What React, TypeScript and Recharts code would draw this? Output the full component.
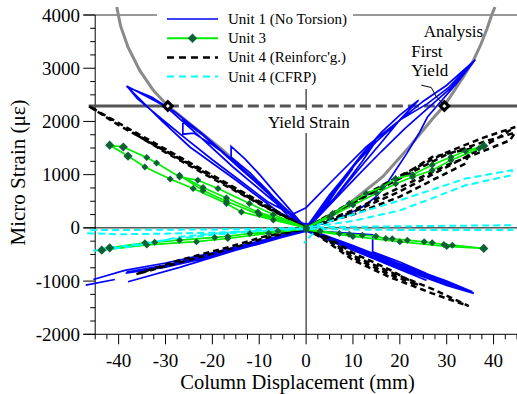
import React from 'react';
import { ComposedChart, Line, XAxis, YAxis, ReferenceLine, Legend } from 'recharts';

type Pt = [number, number];

// ---------- data (x: column displacement mm, y: micro strain) ----------
const unit1Segments: Pt[][] = [
  [[0,0],[2,180],[4,400],[6,650],[8,880],[10,1120],[8,900],[6,640],[4,380],[2,160],[0,30],[-2,120],[-4,300],[-6,480],[-8,680],[-10,860],[-8,640],[-6,420],[-4,240],[-2,100],[0,20],[3,330],[6,700],[9,1030],[12,1350],[15,1640],[12,1250],[9,900],[6,560],[3,250],[0,40],[-3,220],[-6,470],[-9,760],[-12,1040],[-16,1330],[-16,1530],[-13,1290],[-10,1010],[-7,700],[-4,400],[-1,90],[1,60],[4,480],[8,940],[12,1390],[16,1790],[20,2120],[24,2400],[20,2030],[16,1600],[12,1180],[8,760],[4,360],[0,30],[-4,300],[-8,640],[-12,980],[-16,1300],[-20,1560],[-24,1780],[-26.3,1760],[-26.3,2020],[-22,1740],[-18,1430],[-14,1110],[-10,800],[-6,480],[-2,170],[0,20]],
  [[0,0],[-8,580],[-15.6,1144],[-22.5,1700],[-29.8,2270],[-34,2470],[-38.3,2664],[-31,2030],[-24.8,1520],[-15,900],[-6.4,332],[-3,150],[0,0],[-4,330],[-10,830],[-16,1290],[-22,1760],[-28,2180],[-33,2460],[-38,2640],[-36,2430],[-31,2060],[-26,1700],[-20,1280],[-14,880],[-8,480],[-3,250],[0,380]],
  [[0,380],[5.7,895],[12.8,1520],[19.9,2020],[25.9,2334],[30.5,2645],[36.1,3160],[32,2700],[28.5,2350],[25.9,2083],[24.1,1777],[21.5,1400],[19.1,1083],[17,800],[14.9,582],[12,394],[8,220],[4,90],[0,0],[5,620],[10,1150],[15,1620],[20,2020],[25,2380],[30,2680],[35.6,3120],[31,2640],[26,2250],[21,1860],[16,1430],[11,980],[6,520],[2,150],[0,20]],
  [[0,-20],[-10,-250],[-20,-470],[-30,-660],[-38.7,-800],[-45.4,-970]],
  [[-47,-1075],[-40.8,-970]],
  [[-38,-1013],[-27,-743],[-15,-420],[0,-30],[10,-360],[20,-700],[30,-1030],[35.8,-1231],[30,-1080],[20,-760],[10,-420],[0,-60],[-10,-290],[-20,-520],[-30,-720],[-38.5,-850],[-30,-740],[-20,-540],[-10,-300],[0,-50],[7,-90],[14.2,-130],[14.2,-450],[20,-640],[25.5,-850],[25.5,-980],[20,-780],[10,-420],[0,-40],[-10,-270],[-20,-500],[-30,-700],[-38.3,-830],[-32,-760],[-20,-500],[-10,-260],[0,-10],[10,-330],[20,-680],[30,-1000],[35.5,-1200],[30,-1050],[20,-730],[10,-390],[0,-40]],
];

const unit3Segments: Pt[][] = [
  [[0,0],[-7,250],[-12.1,458],[-18.8,739],[-23.1,895],[-27,957],[-31.9,1220],[-34,1320],[-39,1520],[-41.9,1553],[-38,1350],[-34.4,1144],[-29,920],[-24.1,739],[-17,458],[-13.8,300],[-7,150],[0,0],[-10.3,300],[-17,560],[-22,760],[-27,990],[-22,700],[-17,500],[-10,250],[0,0]],
  [[0,0],[-6,-60],[-12,-105],[-16.7,-160],[-19.5,-180],[-27,-231],[-32.3,-270],[-34.4,-281],[-41.9,-375],[-43.6,-420],[-34,-320],[-23.4,-260],[-16.7,-200],[-8,-100],[0,-20]],
  [[0,0],[5.7,270],[9.2,458],[12.8,645],[16.3,770],[19.1,926],[22.7,1000],[26.9,1180],[30.9,1330],[34,1440],[37.9,1540],[36.9,1490],[30.9,1270],[26.9,1083],[22.7,957],[19.1,830],[15,650],[10,430],[5,200],[0,0]],
  [[0,0],[3,-60],[7.1,-105],[9.2,-120],[12,-137],[14.9,-156],[17,-199],[18.4,-205],[21.6,-231],[25.2,-262],[26.9,-281],[29.4,-312],[31.2,-325],[37.9,-387],[30,-350],[20,-260],[10,-160],[0,-40]],
];

const unit4ReinfSegments: Pt[][] = [
  [[0,0],[-10,500],[-20,990],[-30,1480],[-40,1970],[-46.4,2290],[-40,1930],[-30,1440],[-20,960],[-10,460],[0,10],[-10,480],[-20,960],[-30,1450],[-37,1790],[-30,1420],[-20,930],[-10,450],[0,0]],
  [[0,0],[-9.2,-169],[-16.3,-356],[-27,-606],[-36.2,-869],[-27,-650],[-16.3,-400],[-9.2,-200],[0,-20]],
  [[0,0],[10,480],[20,950],[26.9,1332],[35.1,1490],[34,1208],[26.9,895],[19.9,582],[10,250],[0,0],[10,500],[20,980],[30,1420],[38,1700],[44.6,1895],[40,1640],[34,1330],[26.9,1000],[19.9,680],[10,300],[0,0],[10,460],[20,930],[30,1380],[38,1620],[44.6,1790],[43.5,1645],[38,1450],[30,1180],[20,760],[10,330],[0,0]],
  [[0,0],[5,-290],[10,-606],[17.7,-919],[26.9,-1231],[34.7,-1470],[27,-1150],[17.7,-820],[10,-520],[5,-240],[0,0],[5,-260],[10,-560],[17.7,-870],[24,-1080],[17.7,-780],[10,-470],[5,-200],[0,0]],
];

const unit4CfrpSegments: Pt[][] = [
  [[0,0],[-10,-20],[-20,-30],[-30,-35],[-40,-40],[-46.5,-43],[-46.5,-100],[-40,-120],[-30,-110],[-20,-90],[-10,-60],[0,-20]],
  [[0,0],[-10,-50],[-20,-110],[-26.9,-169],[-32,-260],[-37.6,-356],[-45.4,-431],[-43.5,-390],[-37,-320],[-30,-230],[-20,-130],[-10,-60],[0,-10]],
  [[0,0],[10,250],[20,516],[34,926],[43.9,1083],[43.9,990],[34,800],[27,560],[20,328],[10,130],[0,0]],
  [[0,10],[20,30],[44,50],[44,-40],[20,-40],[0,-20]],
  [[1.5,-100],[-0.5,-290]],
];

const analysisCurve: Pt[] = [[-40.4,4150],[-39.6,3800],[-38,3396],[-35.5,2959],[-32.6,2584],[-29.5,2290],[-24.8,1958],[-17.7,1458],[-10,820],[-5,400],[0,0],[5,220],[9.2,458],[16.3,957],[22,1520],[26.9,2040],[29.4,2290],[31.2,2521],[33.5,2830],[35.7,3146],[37.3,3450],[38.6,3741],[39.6,4000],[40.3,4150]];

const YIELD_STRAIN = 2290;
const FIRST_YIELD_X = [-29.5, 29.5];
const YIELD_LINE_START = -46.4;
const YIELD_LINE_END = 45;
const leaderLine: Pt[] = [[24.6,2681],[26.7,2638],[27.8,2462],[29.2,2330]];

const X_TICKS: number[] = [];
for (let v = -45; v <= 45.001; v += 2.5) X_TICKS.push(Math.round(v * 10) / 10);
const Y_TICKS: number[] = [];
for (let v = -2000; v <= 4000; v += 250) Y_TICKS.push(v);

const legendNames = ['Unit 1 (No Torsion)', 'Unit 3', "Unit 4 (Reinforc'g.)", 'Unit 4 (CFRP)'];

// ---------- layout ----------
const CHART_W = 517;
const CHART_H = 394;
const X_MIN = -47.5, X_MAX = 45;
const Y_MIN = -2000, Y_MAX = 4200;
const PLOT_LEFT = 83.48;
const PLOT_TOP = 4.36;
const PLOT_BOTTOM = 334.3;
const AXIS_X_VALUE = -45;
const AXIS_PX = PLOT_LEFT + ((AXIS_X_VALUE - X_MIN) / (X_MAX - X_MIN)) * (CHART_W - PLOT_LEFT);
const FONT = '"Liberation Serif", "Times New Roman", Times, serif';

const BLUE = '#0000ff';
const GREEN = '#00ee00';
const DKGREEN = '#0b6233';
const CYAN = '#00ffff';

const toData = (segs: Pt[][]) => {
  const out: { x: number; y: number | null }[] = [];
  segs.forEach((s, i) => {
    if (i > 0) out.push({ x: s[0][0], y: null });
    s.forEach(([x, y]) => out.push({ x, y }));
  });
  return out;
};

const XTick = (props: any) => {
  const { x, payload } = props;
  const v = payload.value as number;
  const major = Math.abs(v % 10) < 1e-6;
  return (
    <g>
      <line x1={x} x2={x} y1={PLOT_BOTTOM} y2={PLOT_BOTTOM + (major ? 10 : 5)} stroke="#000" />
      {major && v >= -40 && v <= 40 && (
        <text x={x} y={PLOT_BOTTOM + 32.4} textAnchor="middle" fontSize={19} fontFamily={FONT} fill="#000">{String(v)}</text>
      )}
    </g>
  );
};

const YTick = (props: any) => {
  const { y, payload } = props;
  const v = payload.value as number;
  const major = v % 1000 === 0;
  return (
    <g>
      <line x1={AXIS_PX - (major ? 12 : 5)} x2={AXIS_PX} y1={y} y2={y} stroke="#000" />
      {major && (
        <text x={AXIS_PX - 15.2} y={y + 6.5} textAnchor="end" fontSize={19} fontFamily={FONT} fill="#000">{String(v)}</text>
      )}
    </g>
  );
};

const GreenDot = (p: any) => {
  const { cx, cy, payload } = p;
  if (cx == null || cy == null || payload == null || payload.y == null) return <g key={p.key} />;
  const s = Math.abs(payload.x) >= 37 ? 4.6 : 3.5;
  return <path key={p.key} d={`M${cx},${cy - s}L${cx + s},${cy}L${cx},${cy + s}L${cx - s},${cy}Z`} fill={DKGREEN} />;
};

const YieldDiamond = (p: any) => {
  const { cx, cy } = p;
  if (cx == null || cy == null) return <g key={p.key} />;
  const s = 6.5, t = 2;
  return (
    <g key={p.key}>
      <path d={`M${cx},${cy - s}L${cx + s},${cy}L${cx},${cy + s}L${cx - s},${cy}Z`} fill="#000" />
      <path d={`M${cx},${cy - t}L${cx + t},${cy}L${cx},${cy + t}L${cx - t},${cy}Z`} fill="#fff" />
    </g>
  );
};

const legendStyles = [
  { stroke: BLUE, width: 1.5, dash: undefined as string | undefined, marker: false },
  { stroke: GREEN, width: 2, dash: undefined, marker: true },
  { stroke: '#000', width: 2.5, dash: '7 5', marker: false },
  { stroke: CYAN, width: 2, dash: '7 5', marker: false },
];

const LegendContent = () => (
  <svg width={196} height={89} style={{ display: 'block', background: '#fff' }}>
    {legendNames.map((name, i) => {
      const y = 19 + i * 19.2;
      const st = legendStyles[i];
      return (
        <g key={name}>
          <line x1={10} x2={61} y1={y} y2={y} stroke={st.stroke} strokeWidth={st.width} strokeDasharray={st.dash} />
          {st.marker && <path d={`M35.5,${y - 4.7}L40.2,${y}L35.5,${y + 4.7}L30.8,${y}Z`} fill={DKGREEN} />}
          <text x={71} y={y + 5} fontSize={15} fontFamily={FONT} fill="#000">{name}</text>
        </g>
      );
    })}
  </svg>
);

export default function App() {
  const yieldLeft = [{ x: YIELD_LINE_START, y: YIELD_STRAIN }, { x: FIRST_YIELD_X[0], y: YIELD_STRAIN }];
  const yieldMid = [{ x: FIRST_YIELD_X[0], y: YIELD_STRAIN }, { x: FIRST_YIELD_X[1], y: YIELD_STRAIN }];
  const yieldRight = [{ x: FIRST_YIELD_X[1], y: YIELD_STRAIN }, { x: YIELD_LINE_END, y: YIELD_STRAIN }];
  const yieldPts = FIRST_YIELD_X.map((x) => ({ x, y: YIELD_STRAIN }));
  const common = { isAnimationActive: false, dot: false as const, activeDot: false as const, legendType: 'none' as const, connectNulls: false, type: 'linear' as const, dataKey: 'y' };

  return (
    <div style={{ position: 'absolute', left: 0, top: 0, width: CHART_W, height: CHART_H, overflow: 'hidden', background: '#fff' }}>
      <ComposedChart width={CHART_W} height={CHART_H} margin={{ top: PLOT_TOP, right: 0, bottom: 0, left: 0 }}>
        <XAxis type="number" dataKey="x" domain={[X_MIN, X_MAX]} ticks={X_TICKS} interval={0} tick={XTick} tickLine={false} tickSize={0} tickMargin={0} height={CHART_H - PLOT_BOTTOM} axisLine={{ stroke: '#000' }} />
        <YAxis type="number" domain={[Y_MIN, Y_MAX]} ticks={Y_TICKS} interval={0} tick={YTick} tickLine={false} tickSize={0} tickMargin={0} width={PLOT_LEFT} axisLine={false} />
        <ReferenceLine segment={[{ x: AXIS_X_VALUE, y: -2000 }, { x: AXIS_X_VALUE, y: 4000 }]} stroke="#000" />
        <ReferenceLine y={4000} stroke="#333" />
        <ReferenceLine y={0} stroke="#000" />
        <ReferenceLine segment={[{ x: 0, y: -2000 }, { x: 0, y: 4000 }]} stroke="#000" />
        <Line {...common} data={analysisCurve.map(([x, y]) => ({ x, y }))} stroke="#8a8a8a" strokeWidth={3} />
        <Line {...common} data={yieldLeft} stroke="#555" strokeWidth={3} />
        <Line {...common} data={yieldMid} stroke="#555" strokeWidth={3} strokeDasharray="11 5" />
        <Line {...common} data={yieldRight} stroke="#555" strokeWidth={3} />
        <Line {...common} data={toData(unit1Segments)} stroke={BLUE} strokeWidth={1.7} />
        <Line {...common} data={toData(unit4ReinfSegments)} stroke="#000" strokeWidth={2.5} strokeDasharray="6 4" />
        <Line {...common} data={toData(unit3Segments)} stroke={GREEN} strokeWidth={1.7} dot={GreenDot} />
        <Line {...common} data={toData(unit4CfrpSegments)} stroke={CYAN} strokeWidth={2} strokeDasharray="7 4" />
        <Line {...common} data={leaderLine.map(([x, y]) => ({ x, y }))} stroke="#000" strokeWidth={1} />
        <Line {...common} data={yieldPts} stroke="none" dot={YieldDiamond} />
        <Legend layout="vertical" align="center" verticalAlign="middle" content={LegendContent} wrapperStyle={{ left: 157, top: 0, width: 196, height: 89 }} />
      </ComposedChart>
      <svg width={CHART_W} height={CHART_H} style={{ position: 'absolute', left: 0, top: 0, pointerEvents: 'none' }}>
        <rect x={262} y={110} width={94} height={23} fill="#fff" />
        <text x={268} y={128.3} fontSize={17} fontFamily={FONT} fill="#000">Yield Strain</text>
        <text x={423.7} y={36.7} fontSize={17} fontFamily={FONT} fill="#000">Analysis</text>
        <text x={411.3} y={56.8} fontSize={17} fontFamily={FONT} fill="#000">First</text>
        <text x={411.3} y={76.2} fontSize={17} fontFamily={FONT} fill="#000">Yield</text>
        <text x={297.5} y={389} textAnchor="middle" fontSize={20.5} fontFamily={FONT} fill="#000">Column Displacement (mm)</text>
        <text transform="translate(25,172.5) rotate(-90)" textAnchor="middle" fontSize={21} fontFamily={FONT} fill="#000">Micro Strain (με)</text>
      </svg>
    </div>
  );
}
